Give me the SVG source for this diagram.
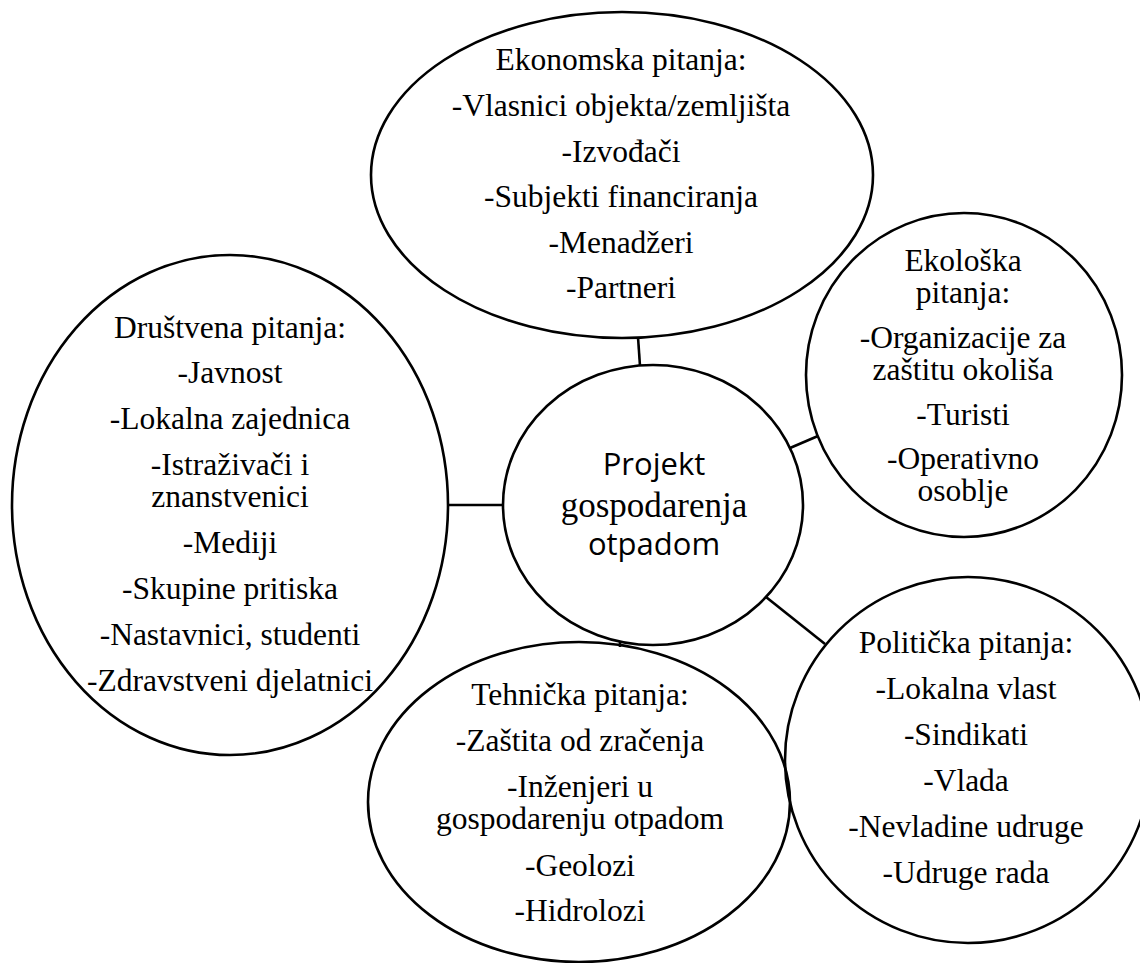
<svg xmlns="http://www.w3.org/2000/svg" width="1140" height="963" viewBox="0 0 1140 963">
<style>
.node{fill:none;stroke:#000;stroke-width:2.6}
.conn{stroke:#000;stroke-width:2.6;fill:none}
.t{font-family:"Liberation Serif","Times New Roman",serif;font-size:31.5px;fill:#000;text-anchor:middle}
.s{font-family:"Open Sans","Liberation Sans",sans-serif;font-size:31px;fill:#000;text-anchor:middle}
</style>
<rect x="0" y="0" width="1140" height="963" fill="#fff"/>
<g id="connectors">
<line class="conn" x1="638" y1="337" x2="640" y2="366"/>
<line class="conn" x1="790" y1="448" x2="818" y2="436"/>
<line class="conn" x1="766" y1="597" x2="825" y2="644"/>
<line class="conn" x1="620" y1="641" x2="620" y2="647"/>
<line class="conn" x1="448" y1="505" x2="504" y2="505"/>
</g>
<g id="ekonomska">
<ellipse class="node" cx="622" cy="175" rx="251" ry="163"/>
<text class="t" x="621" y="70">Ekonomska pitanja:</text>
<text class="t" x="621" y="116">-Vlasnici objekta/zemljišta</text>
<text class="t" x="621" y="162">-Izvođači</text>
<text class="t" x="621" y="207">-Subjekti financiranja</text>
<text class="t" x="621" y="253">-Menadžeri</text>
<text class="t" x="621" y="298">-Partneri</text>
</g>
<g id="ekoloska">
<ellipse class="node" cx="964" cy="375" rx="158" ry="162"/>
<text class="t" x="963" y="271">Ekološka</text>
<text class="t" x="963" y="303">pitanja:</text>
<text class="t" x="963" y="348">-Organizacije za</text>
<text class="t" x="963" y="380">zaštitu okoliša</text>
<text class="t" x="963" y="425">-Turisti</text>
<text class="t" x="963" y="469">-Operativno</text>
<text class="t" x="963" y="501">osoblje</text>
</g>
<g id="drustvena">
<ellipse class="node" cx="230" cy="505" rx="218" ry="250"/>
<text class="t" x="230" y="338">Društvena pitanja:</text>
<text class="t" x="230" y="383">-Javnost</text>
<text class="t" x="230" y="429">-Lokalna zajednica</text>
<text class="t" x="230" y="475">-Istraživači i</text>
<text class="t" x="230" y="507">znanstvenici</text>
<text class="t" x="230" y="553">-Mediji</text>
<text class="t" x="230" y="599">-Skupine pritiska</text>
<text class="t" x="230" y="645">-Nastavnici, studenti</text>
<text class="t" x="230" y="691">-Zdravstveni djelatnici</text>
</g>
<g id="projekt">
<ellipse class="node" cx="653" cy="505" rx="150" ry="140"/>
<text class="s" x="654" y="475">Projekt</text>
<text class="t" x="654" y="517" style="font-size:35px">gospodarenja</text>
<text class="s" x="654" y="555">otpadom</text>
</g>
<g id="tehnicka">
<ellipse class="node" cx="579" cy="802" rx="211" ry="160"/>
<text class="t" x="580" y="705">Tehnička pitanja:</text>
<text class="t" x="580" y="751">-Zaštita od zračenja</text>
<text class="t" x="580" y="797">-Inženjeri u</text>
<text class="t" x="580" y="829">gospodarenju otpadom</text>
<text class="t" x="580" y="876">-Geolozi</text>
<text class="t" x="580" y="921">-Hidrolozi</text>
</g>
<g id="politicka">
<ellipse class="node" cx="968" cy="760" rx="183" ry="183"/>
<text class="t" x="966" y="653">Politička pitanja:</text>
<text class="t" x="966" y="699">-Lokalna vlast</text>
<text class="t" x="966" y="745">-Sindikati</text>
<text class="t" x="966" y="791">-Vlada</text>
<text class="t" x="966" y="837">-Nevladine udruge</text>
<text class="t" x="966" y="883">-Udruge rada</text>
</g>
</svg>
